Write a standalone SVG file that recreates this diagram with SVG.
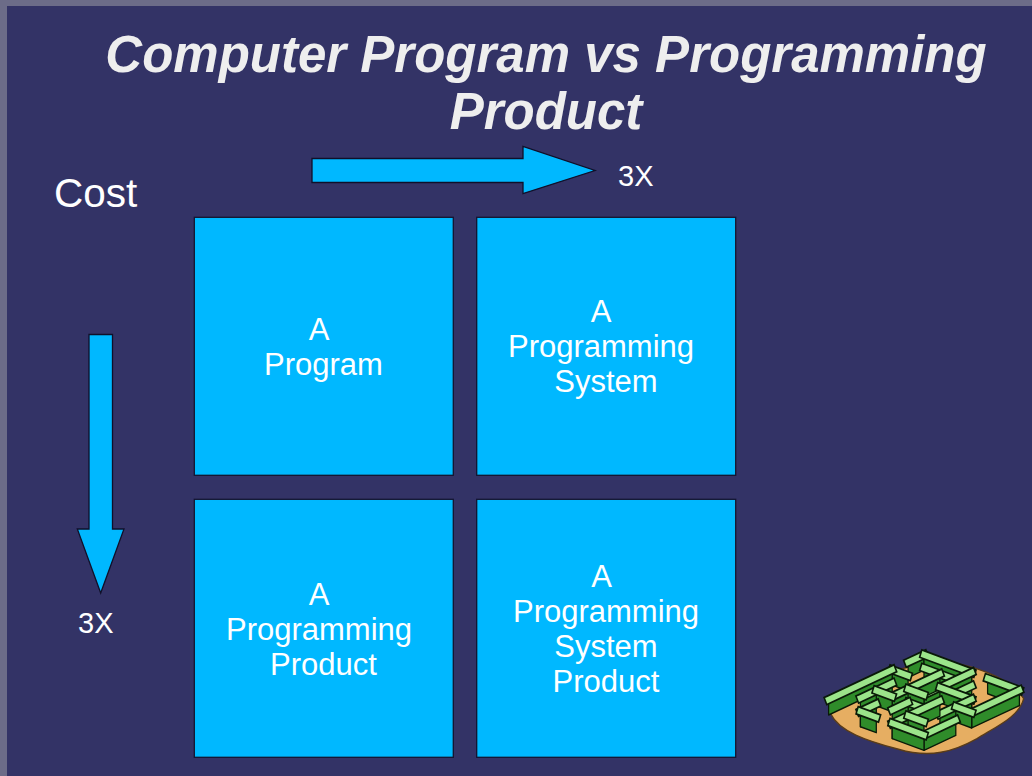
<svg xmlns="http://www.w3.org/2000/svg" width="1032" height="776" viewBox="0 0 1032 776">
  <style>
    .title { font-family: "Liberation Sans", Arial, sans-serif; font-weight: bold; font-style: italic; font-size: 51px; fill: #eeeeee; text-anchor: middle; }
    .label { font-family: "Liberation Sans", Arial, sans-serif; font-size: 29px; fill: #ffffff; }
    .box { fill: #00b8ff; stroke: #141430; stroke-width: 1.3; }
    .boxtext { font-family: "Liberation Sans", Arial, sans-serif; font-size: 31px; fill: #ffffff; text-anchor: middle; }
    .arrow { fill: #00b8ff; stroke: #10102a; stroke-width: 1.3; stroke-linejoin: miter; }
    .side { fill: #2f8c2a; stroke: #0a1a08; stroke-width: 1.2; stroke-linejoin: round; }
    .top-o { fill: none; stroke: #0a1a08; stroke-width: 8; stroke-linecap: square; }
    .top { fill: none; stroke: #9be48a; stroke-width: 5; stroke-linecap: square; }
  </style>

  <!-- frame and slide background -->
  <rect x="0" y="0" width="1032" height="776" fill="#6c6c88"/>
  <rect x="7" y="6" width="1025" height="770" fill="#333366"/>

  <!-- title -->
  <g id="title">
    <text class="title" x="546" y="72">Computer Program vs Programming</text>
    <text class="title" x="546" y="129">Product</text>
  </g>

  <!-- axis labels -->
  <g id="cost-label">
    <text x="54" y="207" font-family="'Liberation Sans', Arial, sans-serif" font-size="40.5" fill="#ffffff">Cost</text>
  </g>

  <!-- cost arrows -->
  <g id="connectors">
    <path id="arrow-right" class="arrow" d="M312,158.5 L523,158.5 L523,146.5 L595,170.5 L523,193.5 L523,182.5 L312,182.5 Z"/>
    <path id="arrow-down" class="arrow" d="M89,334.5 L112.5,334.5 L112.5,529 L124,529 L100.7,593 L77.3,529 L89,529 Z"/>
  </g>
  <g id="label-right">
    <text class="label" x="618" y="186">3X</text>
  </g>
  <g id="label-down">
    <text class="label" x="78" y="633">3X</text>
  </g>

  <!-- quadrant boxes -->
  <g id="program">
    <rect class="box" x="194.3" y="217.3" width="259" height="258"/>
    <text class="boxtext" x="319" y="340">A</text>
    <text class="boxtext" x="323.5" y="375">Program</text>
  </g>
  <g id="programming-system">
    <rect class="box" x="476.7" y="217.3" width="259" height="258"/>
    <text class="boxtext" x="601" y="322">A</text>
    <text class="boxtext" x="601" y="357">Programming</text>
    <text class="boxtext" x="606" y="392">System</text>
  </g>
  <g id="programming-product">
    <rect class="box" x="194.3" y="499.3" width="259" height="258"/>
    <text class="boxtext" x="319" y="605">A</text>
    <text class="boxtext" x="319" y="640">Programming</text>
    <text class="boxtext" x="323.5" y="675">Product</text>
  </g>
  <g id="programming-system-product">
    <rect class="box" x="476.7" y="499.3" width="259" height="258"/>
    <text class="boxtext" x="601.5" y="587">A</text>
    <text class="boxtext" x="606" y="622">Programming</text>
    <text class="boxtext" x="606" y="657">System</text>
    <text class="boxtext" x="606" y="692">Product</text>
  </g>

  <!-- isometric hedge maze, walls drawn back to front -->
  <g id="maze" transform="translate(924,702) scale(1.06,1.18) translate(-922,-702)">
    <path d="M834,712 C848,692 898,672 930,667 C965,669 1002,680 1016,699 C1012,714 992,722 972,733 C950,744 928,750 898,742 C868,735 842,727 834,712 Z" fill="#e6ae62" stroke="#5a3c18" stroke-width="1.2"/>
    <g><path class="side" d="M907,670.3 L922,664 L922,675 L907,681.3Z"/><path class="top-o" d="M907,668.3 L922,662"/><path class="top" d="M907,668.3 L922,662"/></g>
    <g><path class="side" d="M922,664 L967,679 L967,690 L922,675Z"/><path class="top-o" d="M922,662 L967,677"/><path class="top" d="M922,662 L967,677"/></g>
    <g><path class="side" d="M892,676.7 L907,681.7 L907,692.7 L892,687.7Z"/><path class="top-o" d="M892,674.7 L907,679.7"/><path class="top" d="M892,674.7 L907,679.7"/></g>
    <g><path class="side" d="M922,675.3 L952,685.3 L952,696.3 L922,686.3Z"/><path class="top-o" d="M922,673.3 L952,683.3"/><path class="top" d="M922,673.3 L952,683.3"/></g>
    <g><path class="side" d="M922,698 L967,679 L967,690 L922,709Z"/><path class="top-o" d="M922,696 L967,677"/><path class="top" d="M922,696 L967,677"/></g>
    <g><path class="side" d="M982,684 L1012,694 L1012,705 L982,695Z"/><path class="top-o" d="M982,682 L1012,692"/><path class="top" d="M982,682 L1012,692"/></g>
    <g><path class="side" d="M832,702 L892,676.7 L892,687.7 L832,713Z"/><path class="top-o" d="M832,700 L892,674.7"/><path class="top" d="M832,700 L892,674.7"/></g>
    <g><path class="side" d="M892,699.3 L937,680.3 L937,691.3 L892,710.3Z"/><path class="top-o" d="M892,697.3 L937,678.3"/><path class="top" d="M892,697.3 L937,678.3"/></g>
    <g><path class="side" d="M952,696.7 L967,690.3 L967,701.3 L952,707.7Z"/><path class="top-o" d="M952,694.7 L967,688.3"/><path class="top" d="M952,694.7 L967,688.3"/></g>
    <g><path class="side" d="M862,700.7 L892,688 L892,699 L862,711.7Z"/><path class="top-o" d="M862,698.7 L892,686"/><path class="top" d="M862,698.7 L892,686"/></g>
    <g><path class="side" d="M907,693 L922,698 L922,709 L907,704Z"/><path class="top-o" d="M907,691 L922,696"/><path class="top" d="M907,691 L922,696"/></g>
    <g><path class="side" d="M937,691.7 L967,701.7 L967,712.7 L937,702.7Z"/><path class="top-o" d="M937,689.7 L967,699.7"/><path class="top" d="M937,689.7 L967,699.7"/></g>
    <g><path class="side" d="M877,694.3 L892,699.3 L892,710.3 L877,705.3Z"/><path class="top-o" d="M877,692.3 L892,697.3"/><path class="top" d="M877,692.3 L892,697.3"/></g>
    <g><path class="side" d="M967,713 L1012,694 L1012,705 L967,724Z"/><path class="top-o" d="M967,711 L1012,692"/><path class="top" d="M967,711 L1012,692"/></g>
    <g><path class="side" d="M907,704.3 L922,709.3 L922,720.3 L907,715.3Z"/><path class="top-o" d="M907,702.3 L922,707.3"/><path class="top" d="M907,702.3 L922,707.3"/></g>
    <g><path class="side" d="M892,710.7 L907,704.3 L907,715.3 L892,721.7Z"/><path class="top-o" d="M892,708.7 L907,702.3"/><path class="top" d="M892,708.7 L907,702.3"/></g>
    <g><path class="side" d="M937,714.3 L967,701.7 L967,712.7 L937,725.3Z"/><path class="top-o" d="M937,712.3 L967,699.7"/><path class="top" d="M937,712.3 L967,699.7"/></g>
    <g><path class="side" d="M862,712 L877,705.7 L877,716.7 L862,723Z"/><path class="top-o" d="M862,710 L877,703.7"/><path class="top" d="M862,710 L877,703.7"/></g>
    <g><path class="side" d="M952,708 L967,713 L967,724 L952,719Z"/><path class="top-o" d="M952,706 L967,711"/><path class="top" d="M952,706 L967,711"/></g>
    <g><path class="side" d="M892,722 L937,703 L937,714 L892,733Z"/><path class="top-o" d="M892,720 L937,701"/><path class="top" d="M892,720 L937,701"/></g>
    <g><path class="side" d="M862,712 L877,717 L877,728 L862,723Z"/><path class="top-o" d="M862,710 L877,715"/><path class="top" d="M862,710 L877,715"/></g>
    <g><path class="side" d="M907,715.7 L922,720.7 L922,731.7 L907,726.7Z"/><path class="top-o" d="M907,713.7 L922,718.7"/><path class="top" d="M907,713.7 L922,718.7"/></g>
    <g><path class="side" d="M922,732 L952,719.3 L952,730.3 L922,743Z"/><path class="top-o" d="M922,730 L952,717.3"/><path class="top" d="M922,730 L952,717.3"/></g>
    <g><path class="side" d="M892,722 L922,732 L922,743 L892,733Z"/><path class="top-o" d="M892,720 L922,730"/><path class="top" d="M892,720 L922,730"/></g>
  </g>
</svg>
